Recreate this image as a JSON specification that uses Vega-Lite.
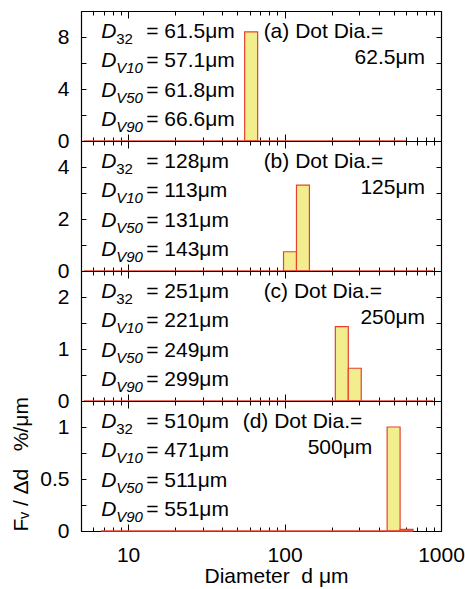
{
  "$schema": "https://vega.github.io/schema/vega-lite/v6.json",
  "padding": {"top": 10, "left": 10, "right": 0, "bottom": 0},
  "spacing": 0,
  "bounds": "flush",
  "config": {
    "font": "Liberation Sans",
    "view": {"stroke": "black", "strokeWidth": 1},
    "axis": {"grid": false, "domainColor": "black", "tickColor": "black", "labelColor": "black", "titleColor": "black", "labelFontSize": 21, "titleFontSize": 21, "titleFontWeight": "normal", "labelFlush": false, "labelOverlap": false, "domainWidth": 1.2, "tickWidth": 1}
  },
  "datasets": {
    "bins": [
      {"panel": "a", "lo": 55.6, "hi": 67.3, "val": 8.4},
      {"panel": "b", "lo": 98.5, "hi": 119.2, "val": 0.74},
      {"panel": "b", "lo": 119.2, "hi": 144.2, "val": 3.3},
      {"panel": "c", "lo": 211.2, "hi": 255.5, "val": 1.43},
      {"panel": "c", "lo": 255.5, "hi": 309.2, "val": 0.63},
      {"panel": "d", "lo": 452.7, "hi": 547.7, "val": 1.0},
      {"panel": "d", "lo": 547.7, "hi": 662.8, "val": 0.015}
    ],
    "base": [
      {"panel": "a", "lo": 5.2, "hi": 600},
      {"panel": "b", "lo": 5.2, "hi": 890},
      {"panel": "c", "lo": 5.2, "hi": 890},
      {"panel": "d", "lo": 6.7, "hi": 664}
    ],
    "dlab": [
      {"panel": "a", "row": 0, "sub": "32", "val": "= 61.5μm"},
      {"panel": "a", "row": 1, "sub": "V10", "val": "= 57.1μm"},
      {"panel": "a", "row": 2, "sub": "V50", "val": "= 61.8μm"},
      {"panel": "a", "row": 3, "sub": "V90", "val": "= 66.6μm"},
      {"panel": "b", "row": 0, "sub": "32", "val": "= 128μm"},
      {"panel": "b", "row": 1, "sub": "V10", "val": "= 113μm"},
      {"panel": "b", "row": 2, "sub": "V50", "val": "= 131μm"},
      {"panel": "b", "row": 3, "sub": "V90", "val": "= 143μm"},
      {"panel": "c", "row": 0, "sub": "32", "val": "= 251μm"},
      {"panel": "c", "row": 1, "sub": "V10", "val": "= 221μm"},
      {"panel": "c", "row": 2, "sub": "V50", "val": "= 249μm"},
      {"panel": "c", "row": 3, "sub": "V90", "val": "= 299μm"},
      {"panel": "d", "row": 0, "sub": "32", "val": "= 510μm"},
      {"panel": "d", "row": 1, "sub": "V10", "val": "= 471μm"},
      {"panel": "d", "row": 2, "sub": "V50", "val": "= 511μm"},
      {"panel": "d", "row": 3, "sub": "V90", "val": "= 551μm"}
    ],
    "rlab": [
      {"panel": "a", "l1": "(a) Dot Dia.=", "l2": "62.5μm"},
      {"panel": "b", "l1": "(b) Dot Dia.=", "l2": "125μm"},
      {"panel": "c", "l1": "(c) Dot Dia.=", "l2": "250μm"},
      {"panel": "d", "l1": "(d) Dot Dia.=", "l2": "500μm"}
    ]
  },
  "vconcat": [
    {
      "width": 360, "height": 130,
      "resolve": {"scale": {"y": "independent"}, "axis": {"x": "independent", "y": "independent"}},
      "layer": [
        {"data": {"name": "bins"}, "transform": [{"filter": "datum.panel=='a'"}],
         "mark": {"type": "rect", "fill": "#f3ee8d", "stroke": "#e8402f", "strokeWidth": 1.2},
         "encoding": {
           "x": {"field": "lo", "type": "quantitative", "scale": {"type": "log", "domain": [5, 1000], "nice": false}, "axis": {"values": [10, 100, 1000], "tickSize": -7, "labels": false, "title": null}},
           "x2": {"field": "hi"},
           "y": {"field": "val", "type": "quantitative", "scale": {"domain": [0, 10], "nice": false}, "axis": {"values": [0, 2, 4, 6, 8], "tickSize": -5, "labelPadding": 17, "format": "~g", "labelExpr": "datum.value % 4 == 0 ? datum.label : ''", "title": null}},
           "y2": {"datum": 0}}},
        {"data": {"name": "base"}, "transform": [{"filter": "datum.panel=='a'"}],
         "mark": {"type": "rule", "color": "#e8402f", "strokeWidth": 1.5},
         "encoding": {
           "x": {"field": "lo", "type": "quantitative", "scale": {"type": "log", "domain": [5, 1000], "nice": false}, "axis": {"orient": "top", "values": [10, 100, 1000], "tickSize": -7, "labels": false, "title": null}},
           "x2": {"field": "hi"},
           "y": {"datum": 0, "type": "quantitative", "scale": {"domain": [0, 10], "nice": false}, "axis": {"orient": "right", "values": [0, 2, 4, 6, 8], "tickSize": -5, "labels": false, "title": null}}}},
        {"data": {"name": "dlab"}, "transform": [{"filter": "datum.panel=='a'"}],
         "mark": {"type": "text", "align": "left", "baseline": "middle", "fontSize": 21, "fontStyle": "italic"},
         "encoding": {
           "x": {"datum": 6.73, "type": "quantitative", "scale": {"type": "log", "domain": [5, 1000], "nice": false}, "axis": {"values": [6, 7, 8, 9, 20, 30, 40, 50, 60, 70, 80, 90, 200, 300, 400, 500, 600, 700, 800, 900], "tickSize": -4, "labels": false, "domain": false, "title": null}},
           "y": {"field": "row", "type": "ordinal", "scale": {"type": "point", "domain": [0, 1, 2, 3], "padding": 0.7}, "axis": null},
           "text": {"value": "D"}}},
        {"data": {"name": "dlab"}, "transform": [{"filter": "datum.panel=='a' && datum.row==0"}],
         "mark": {"type": "text", "align": "left", "baseline": "middle", "fontSize": 15, "dx": 15, "dy": 7},
         "encoding": {
           "x": {"datum": 6.73, "type": "quantitative", "scale": {"type": "log", "domain": [5, 1000], "nice": false}, "axis": {"orient": "top", "values": [6, 7, 8, 9, 20, 30, 40, 50, 60, 70, 80, 90, 200, 300, 400, 500, 600, 700, 800, 900], "tickSize": -4, "labels": false, "domain": false, "title": null}},
           "y": {"field": "row", "type": "ordinal", "scale": {"type": "point", "domain": [0, 1, 2, 3], "padding": 0.7}, "axis": null},
           "text": {"field": "sub"}}},
        {"data": {"name": "dlab"}, "transform": [{"filter": "datum.panel=='a' && datum.row>0"}],
         "mark": {"type": "text", "align": "left", "baseline": "middle", "fontSize": 15, "fontStyle": "italic", "dx": 15, "dy": 7},
         "encoding": {
           "x": {"datum": 6.73, "type": "quantitative", "scale": {"type": "log", "domain": [5, 1000], "nice": false}, "axis": null},
           "y": {"field": "row", "type": "ordinal", "scale": {"type": "point", "domain": [0, 1, 2, 3], "padding": 0.7}, "axis": null},
           "text": {"field": "sub"}}},
        {"data": {"name": "dlab"}, "transform": [{"filter": "datum.panel=='a'"}],
         "mark": {"type": "text", "align": "left", "baseline": "middle", "fontSize": 21, "dx": 45},
         "encoding": {
           "x": {"datum": 6.73, "type": "quantitative", "scale": {"type": "log", "domain": [5, 1000], "nice": false}, "axis": null},
           "y": {"field": "row", "type": "ordinal", "scale": {"type": "point", "domain": [0, 1, 2, 3], "padding": 0.7}, "axis": null},
           "text": {"field": "val"}}},
        {"data": {"name": "rlab"}, "transform": [{"filter": "datum.panel=='a'"}],
         "mark": {"type": "text", "align": "left", "baseline": "middle", "fontSize": 21},
         "encoding": {
           "x": {"datum": 73.5, "type": "quantitative", "scale": {"type": "log", "domain": [5, 1000], "nice": false}, "axis": null},
           "y": {"datum": 0, "type": "ordinal", "scale": {"type": "point", "domain": [0, 1, 2, 3], "padding": 0.7}, "axis": null},
           "text": {"field": "l1"}}},
        {"data": {"name": "rlab"}, "transform": [{"filter": "datum.panel=='a'"}],
         "mark": {"type": "text", "align": "right", "baseline": "middle", "fontSize": 21, "dy": -3},
         "encoding": {
           "x": {"datum": 791, "type": "quantitative", "scale": {"type": "log", "domain": [5, 1000], "nice": false}, "axis": null},
           "y": {"datum": 1, "type": "ordinal", "scale": {"type": "point", "domain": [0, 1, 2, 3], "padding": 0.7}, "axis": null},
           "text": {"field": "l2"}}}
      ]
    },
    {
      "width": 360, "height": 130,
      "resolve": {"scale": {"y": "independent"}, "axis": {"x": "independent", "y": "independent"}},
      "layer": [
        {"data": {"name": "bins"}, "transform": [{"filter": "datum.panel=='b'"}],
         "mark": {"type": "rect", "fill": "#f3ee8d", "stroke": "#e8402f", "strokeWidth": 1.2},
         "encoding": {
           "x": {"field": "lo", "type": "quantitative", "scale": {"type": "log", "domain": [5, 1000], "nice": false}, "axis": {"values": [10, 100, 1000], "tickSize": -7, "labels": false, "title": null}},
           "x2": {"field": "hi"},
           "y": {"field": "val", "type": "quantitative", "scale": {"domain": [0, 5], "nice": false}, "axis": {"values": [0, 1, 2, 3, 4], "tickSize": -5, "labelPadding": 17, "format": "~g", "labelExpr": "datum.value % 2 == 0 ? datum.label : ''", "title": null}},
           "y2": {"datum": 0}}},
        {"data": {"name": "base"}, "transform": [{"filter": "datum.panel=='b'"}],
         "mark": {"type": "rule", "color": "#e8402f", "strokeWidth": 1.5},
         "encoding": {
           "x": {"field": "lo", "type": "quantitative", "scale": {"type": "log", "domain": [5, 1000], "nice": false}, "axis": {"orient": "top", "values": [10, 100, 1000], "tickSize": -7, "labels": false, "title": null}},
           "x2": {"field": "hi"},
           "y": {"datum": 0, "type": "quantitative", "scale": {"domain": [0, 5], "nice": false}, "axis": {"orient": "right", "values": [0, 1, 2, 3, 4], "tickSize": -5, "labels": false, "title": null}}}},
        {"data": {"name": "dlab"}, "transform": [{"filter": "datum.panel=='b'"}],
         "mark": {"type": "text", "align": "left", "baseline": "middle", "fontSize": 21, "fontStyle": "italic"},
         "encoding": {
           "x": {"datum": 6.73, "type": "quantitative", "scale": {"type": "log", "domain": [5, 1000], "nice": false}, "axis": {"values": [6, 7, 8, 9, 20, 30, 40, 50, 60, 70, 80, 90, 200, 300, 400, 500, 600, 700, 800, 900], "tickSize": -4, "labels": false, "domain": false, "title": null}},
           "y": {"field": "row", "type": "ordinal", "scale": {"type": "point", "domain": [0, 1, 2, 3], "padding": 0.7}, "axis": null},
           "text": {"value": "D"}}},
        {"data": {"name": "dlab"}, "transform": [{"filter": "datum.panel=='b' && datum.row==0"}],
         "mark": {"type": "text", "align": "left", "baseline": "middle", "fontSize": 15, "dx": 15, "dy": 7},
         "encoding": {
           "x": {"datum": 6.73, "type": "quantitative", "scale": {"type": "log", "domain": [5, 1000], "nice": false}, "axis": {"orient": "top", "values": [6, 7, 8, 9, 20, 30, 40, 50, 60, 70, 80, 90, 200, 300, 400, 500, 600, 700, 800, 900], "tickSize": -4, "labels": false, "domain": false, "title": null}},
           "y": {"field": "row", "type": "ordinal", "scale": {"type": "point", "domain": [0, 1, 2, 3], "padding": 0.7}, "axis": null},
           "text": {"field": "sub"}}},
        {"data": {"name": "dlab"}, "transform": [{"filter": "datum.panel=='b' && datum.row>0"}],
         "mark": {"type": "text", "align": "left", "baseline": "middle", "fontSize": 15, "fontStyle": "italic", "dx": 15, "dy": 7},
         "encoding": {
           "x": {"datum": 6.73, "type": "quantitative", "scale": {"type": "log", "domain": [5, 1000], "nice": false}, "axis": null},
           "y": {"field": "row", "type": "ordinal", "scale": {"type": "point", "domain": [0, 1, 2, 3], "padding": 0.7}, "axis": null},
           "text": {"field": "sub"}}},
        {"data": {"name": "dlab"}, "transform": [{"filter": "datum.panel=='b'"}],
         "mark": {"type": "text", "align": "left", "baseline": "middle", "fontSize": 21, "dx": 45},
         "encoding": {
           "x": {"datum": 6.73, "type": "quantitative", "scale": {"type": "log", "domain": [5, 1000], "nice": false}, "axis": null},
           "y": {"field": "row", "type": "ordinal", "scale": {"type": "point", "domain": [0, 1, 2, 3], "padding": 0.7}, "axis": null},
           "text": {"field": "val"}}},
        {"data": {"name": "rlab"}, "transform": [{"filter": "datum.panel=='b'"}],
         "mark": {"type": "text", "align": "left", "baseline": "middle", "fontSize": 21},
         "encoding": {
           "x": {"datum": 73.5, "type": "quantitative", "scale": {"type": "log", "domain": [5, 1000], "nice": false}, "axis": null},
           "y": {"datum": 0, "type": "ordinal", "scale": {"type": "point", "domain": [0, 1, 2, 3], "padding": 0.7}, "axis": null},
           "text": {"field": "l1"}}},
        {"data": {"name": "rlab"}, "transform": [{"filter": "datum.panel=='b'"}],
         "mark": {"type": "text", "align": "right", "baseline": "middle", "fontSize": 21, "dy": -3},
         "encoding": {
           "x": {"datum": 791, "type": "quantitative", "scale": {"type": "log", "domain": [5, 1000], "nice": false}, "axis": null},
           "y": {"datum": 1, "type": "ordinal", "scale": {"type": "point", "domain": [0, 1, 2, 3], "padding": 0.7}, "axis": null},
           "text": {"field": "l2"}}}
      ]
    },
    {
      "width": 360, "height": 130,
      "resolve": {"scale": {"y": "independent"}, "axis": {"x": "independent", "y": "independent"}},
      "layer": [
        {"data": {"name": "bins"}, "transform": [{"filter": "datum.panel=='c'"}],
         "mark": {"type": "rect", "fill": "#f3ee8d", "stroke": "#e8402f", "strokeWidth": 1.2},
         "encoding": {
           "x": {"field": "lo", "type": "quantitative", "scale": {"type": "log", "domain": [5, 1000], "nice": false}, "axis": {"values": [10, 100, 1000], "tickSize": -7, "labels": false, "title": null}},
           "x2": {"field": "hi"},
           "y": {"field": "val", "type": "quantitative", "scale": {"domain": [0, 2.5], "nice": false}, "axis": {"values": [0, 0.5, 1, 1.5, 2], "tickSize": -5, "labelPadding": 17, "format": "~g", "labelExpr": "datum.value % 1 == 0 ? datum.label : ''", "title": null}},
           "y2": {"datum": 0}}},
        {"data": {"name": "base"}, "transform": [{"filter": "datum.panel=='c'"}],
         "mark": {"type": "rule", "color": "#e8402f", "strokeWidth": 1.5},
         "encoding": {
           "x": {"field": "lo", "type": "quantitative", "scale": {"type": "log", "domain": [5, 1000], "nice": false}, "axis": {"orient": "top", "values": [10, 100, 1000], "tickSize": -7, "labels": false, "title": null}},
           "x2": {"field": "hi"},
           "y": {"datum": 0, "type": "quantitative", "scale": {"domain": [0, 2.5], "nice": false}, "axis": {"orient": "right", "values": [0, 0.5, 1, 1.5, 2], "tickSize": -5, "labels": false, "title": null}}}},
        {"data": {"name": "dlab"}, "transform": [{"filter": "datum.panel=='c'"}],
         "mark": {"type": "text", "align": "left", "baseline": "middle", "fontSize": 21, "fontStyle": "italic"},
         "encoding": {
           "x": {"datum": 6.73, "type": "quantitative", "scale": {"type": "log", "domain": [5, 1000], "nice": false}, "axis": {"values": [6, 7, 8, 9, 20, 30, 40, 50, 60, 70, 80, 90, 200, 300, 400, 500, 600, 700, 800, 900], "tickSize": -4, "labels": false, "domain": false, "title": null}},
           "y": {"field": "row", "type": "ordinal", "scale": {"type": "point", "domain": [0, 1, 2, 3], "padding": 0.7}, "axis": null},
           "text": {"value": "D"}}},
        {"data": {"name": "dlab"}, "transform": [{"filter": "datum.panel=='c' && datum.row==0"}],
         "mark": {"type": "text", "align": "left", "baseline": "middle", "fontSize": 15, "dx": 15, "dy": 7},
         "encoding": {
           "x": {"datum": 6.73, "type": "quantitative", "scale": {"type": "log", "domain": [5, 1000], "nice": false}, "axis": {"orient": "top", "values": [6, 7, 8, 9, 20, 30, 40, 50, 60, 70, 80, 90, 200, 300, 400, 500, 600, 700, 800, 900], "tickSize": -4, "labels": false, "domain": false, "title": null}},
           "y": {"field": "row", "type": "ordinal", "scale": {"type": "point", "domain": [0, 1, 2, 3], "padding": 0.7}, "axis": null},
           "text": {"field": "sub"}}},
        {"data": {"name": "dlab"}, "transform": [{"filter": "datum.panel=='c' && datum.row>0"}],
         "mark": {"type": "text", "align": "left", "baseline": "middle", "fontSize": 15, "fontStyle": "italic", "dx": 15, "dy": 7},
         "encoding": {
           "x": {"datum": 6.73, "type": "quantitative", "scale": {"type": "log", "domain": [5, 1000], "nice": false}, "axis": null},
           "y": {"field": "row", "type": "ordinal", "scale": {"type": "point", "domain": [0, 1, 2, 3], "padding": 0.7}, "axis": null},
           "text": {"field": "sub"}}},
        {"data": {"name": "dlab"}, "transform": [{"filter": "datum.panel=='c'"}],
         "mark": {"type": "text", "align": "left", "baseline": "middle", "fontSize": 21, "dx": 45},
         "encoding": {
           "x": {"datum": 6.73, "type": "quantitative", "scale": {"type": "log", "domain": [5, 1000], "nice": false}, "axis": null},
           "y": {"field": "row", "type": "ordinal", "scale": {"type": "point", "domain": [0, 1, 2, 3], "padding": 0.7}, "axis": null},
           "text": {"field": "val"}}},
        {"data": {"name": "rlab"}, "transform": [{"filter": "datum.panel=='c'"}],
         "mark": {"type": "text", "align": "left", "baseline": "middle", "fontSize": 21},
         "encoding": {
           "x": {"datum": 73.5, "type": "quantitative", "scale": {"type": "log", "domain": [5, 1000], "nice": false}, "axis": null},
           "y": {"datum": 0, "type": "ordinal", "scale": {"type": "point", "domain": [0, 1, 2, 3], "padding": 0.7}, "axis": null},
           "text": {"field": "l1"}}},
        {"data": {"name": "rlab"}, "transform": [{"filter": "datum.panel=='c'"}],
         "mark": {"type": "text", "align": "right", "baseline": "middle", "fontSize": 21, "dy": -3},
         "encoding": {
           "x": {"datum": 791, "type": "quantitative", "scale": {"type": "log", "domain": [5, 1000], "nice": false}, "axis": null},
           "y": {"datum": 1, "type": "ordinal", "scale": {"type": "point", "domain": [0, 1, 2, 3], "padding": 0.7}, "axis": null},
           "text": {"field": "l2"}}}
      ]
    },
    {
      "width": 360, "height": 130,
      "resolve": {"scale": {"y": "independent"}, "axis": {"x": "independent", "y": "independent"}},
      "layer": [
        {"data": {"name": "bins"}, "transform": [{"filter": "datum.panel=='d'"}],
         "mark": {"type": "rect", "fill": "#f3ee8d", "stroke": "#e8402f", "strokeWidth": 1.2},
         "encoding": {
           "x": {"field": "lo", "type": "quantitative", "scale": {"type": "log", "domain": [5, 1000], "nice": false}, "axis": {"values": [10, 100, 1000], "tickSize": -7, "labelPadding": 20, "format": "~g", "title": "Diameter\u00a0\u00a0d\u00a0μm", "titlePadding": 0, "titleX": 195}},
           "x2": {"field": "hi"},
           "y": {"field": "val", "type": "quantitative", "scale": {"domain": [0, 1.25], "nice": false}, "axis": {"values": [0, 0.25, 0.5, 0.75, 1], "tickSize": -5, "labelPadding": 17, "format": "~g", "labelExpr": "(datum.value * 4) % 2 == 0 ? datum.label : ''", "title": "Fᵥ\u00a0/\u00a0Δd\u00a0\u00a0\u00a0%/μm", "titleAnchor": "start", "titlePadding": 8}},
           "y2": {"datum": 0}}},
        {"data": {"name": "base"}, "transform": [{"filter": "datum.panel=='d'"}],
         "mark": {"type": "rule", "color": "#e8402f", "strokeWidth": 1.5},
         "encoding": {
           "x": {"field": "lo", "type": "quantitative", "scale": {"type": "log", "domain": [5, 1000], "nice": false}, "axis": {"orient": "top", "values": [10, 100, 1000], "tickSize": -7, "labels": false, "title": null}},
           "x2": {"field": "hi"},
           "y": {"datum": 0, "type": "quantitative", "scale": {"domain": [0, 1.25], "nice": false}, "axis": {"orient": "right", "values": [0, 0.25, 0.5, 0.75, 1], "tickSize": -5, "labels": false, "title": null}}}},
        {"data": {"name": "dlab"}, "transform": [{"filter": "datum.panel=='d'"}],
         "mark": {"type": "text", "align": "left", "baseline": "middle", "fontSize": 21, "fontStyle": "italic"},
         "encoding": {
           "x": {"datum": 6.73, "type": "quantitative", "scale": {"type": "log", "domain": [5, 1000], "nice": false}, "axis": {"values": [6, 7, 8, 9, 20, 30, 40, 50, 60, 70, 80, 90, 200, 300, 400, 500, 600, 700, 800, 900], "tickSize": -4, "labels": false, "domain": false, "title": null}},
           "y": {"field": "row", "type": "ordinal", "scale": {"type": "point", "domain": [0, 1, 2, 3], "padding": 0.7}, "axis": null},
           "text": {"value": "D"}}},
        {"data": {"name": "dlab"}, "transform": [{"filter": "datum.panel=='d' && datum.row==0"}],
         "mark": {"type": "text", "align": "left", "baseline": "middle", "fontSize": 15, "dx": 15, "dy": 7},
         "encoding": {
           "x": {"datum": 6.73, "type": "quantitative", "scale": {"type": "log", "domain": [5, 1000], "nice": false}, "axis": {"orient": "top", "values": [6, 7, 8, 9, 20, 30, 40, 50, 60, 70, 80, 90, 200, 300, 400, 500, 600, 700, 800, 900], "tickSize": -4, "labels": false, "domain": false, "title": null}},
           "y": {"field": "row", "type": "ordinal", "scale": {"type": "point", "domain": [0, 1, 2, 3], "padding": 0.7}, "axis": null},
           "text": {"field": "sub"}}},
        {"data": {"name": "dlab"}, "transform": [{"filter": "datum.panel=='d' && datum.row>0"}],
         "mark": {"type": "text", "align": "left", "baseline": "middle", "fontSize": 15, "fontStyle": "italic", "dx": 15, "dy": 7},
         "encoding": {
           "x": {"datum": 6.73, "type": "quantitative", "scale": {"type": "log", "domain": [5, 1000], "nice": false}, "axis": null},
           "y": {"field": "row", "type": "ordinal", "scale": {"type": "point", "domain": [0, 1, 2, 3], "padding": 0.7}, "axis": null},
           "text": {"field": "sub"}}},
        {"data": {"name": "dlab"}, "transform": [{"filter": "datum.panel=='d'"}],
         "mark": {"type": "text", "align": "left", "baseline": "middle", "fontSize": 21, "dx": 45},
         "encoding": {
           "x": {"datum": 6.73, "type": "quantitative", "scale": {"type": "log", "domain": [5, 1000], "nice": false}, "axis": null},
           "y": {"field": "row", "type": "ordinal", "scale": {"type": "point", "domain": [0, 1, 2, 3], "padding": 0.7}, "axis": null},
           "text": {"field": "val"}}},
        {"data": {"name": "rlab"}, "transform": [{"filter": "datum.panel=='d'"}],
         "mark": {"type": "text", "align": "left", "baseline": "middle", "fontSize": 21},
         "encoding": {
           "x": {"datum": 54, "type": "quantitative", "scale": {"type": "log", "domain": [5, 1000], "nice": false}, "axis": null},
           "y": {"datum": 0, "type": "ordinal", "scale": {"type": "point", "domain": [0, 1, 2, 3], "padding": 0.7}, "axis": null},
           "text": {"field": "l1"}}},
        {"data": {"name": "rlab"}, "transform": [{"filter": "datum.panel=='d'"}],
         "mark": {"type": "text", "align": "right", "baseline": "middle", "fontSize": 21, "dy": -3},
         "encoding": {
           "x": {"datum": 364, "type": "quantitative", "scale": {"type": "log", "domain": [5, 1000], "nice": false}, "axis": null},
           "y": {"datum": 1, "type": "ordinal", "scale": {"type": "point", "domain": [0, 1, 2, 3], "padding": 0.7}, "axis": null},
           "text": {"field": "l2"}}}
      ]
    }
  ]
}
